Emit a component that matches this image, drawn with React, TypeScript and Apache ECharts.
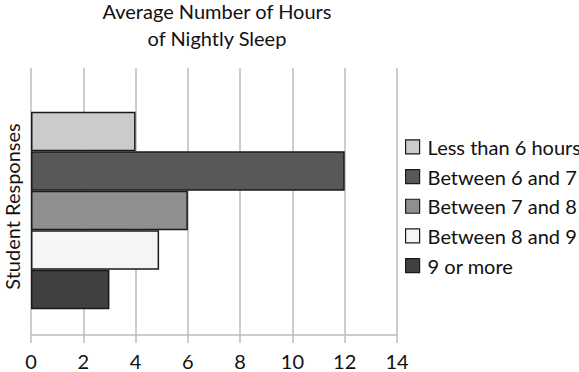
import React, { useEffect, useRef } from "react";
import * as echarts from "echarts";

const categories = ["Student Responses"];
const seriesNames = [
  "Less than 6 hours",
  "Between 6 and 7 hours",
  "Between 7 and 8 hours",
  "Between 8 and 9 hours",
  "9 or more",
];
const seriesValues = [4, 12, 6, 4.9, 3];
const seriesColors = ["#cbcbcb", "#58585a", "#8e8f91", "#f4f6f5", "#404042"];
const titleLines = ["Average Number of Hours", "of Nightly Sleep"];
const xMin = 0;
const xMax = 14;
const xStep = 2;

const FONT = "Lato, 'Open Sans', sans-serif";

export default function App() {
  const ref = useRef<HTMLDivElement>(null);
  useEffect(() => {
    if (!ref.current) return;
    const chart = echarts.init(ref.current, undefined, { renderer: "svg" });
    const barSeries = seriesNames.map((name, i) => ({
      name,
      type: "bar",
      data: [seriesValues[i]],
      barWidth: 39.5,
      barGap: "0%",
      itemStyle: { color: seriesColors[i], borderColor: "#1a1a1a", borderWidth: 1.5 },
    }));
    chart.setOption({
      animation: false,
      textStyle: { fontFamily: FONT },
      title: {
        text: titleLines.join("\n"),
        left: 212,
        top: -8,
        textAlign: "center",
        textStyle: { fontFamily: FONT, fontSize: 20, fontWeight: "normal", color: "#111", lineHeight: 27 },
      },
      legend: {
        orient: "vertical",
        left: 400,
        top: 131,
        itemWidth: 14,
        itemHeight: 14,
        itemGap: 8,
        data: seriesNames,
        icon: "rect",
        itemStyle: { borderColor: "#1a1a1a", borderWidth: 1.2 },
        textStyle: { fontFamily: FONT, fontSize: 20, color: "#111", padding: [0, 0, 0, 3], lineHeight: 21.7 },
      },
      grid: { left: 31, right: 182, top: 68, bottom: 37, containLabel: false, outerBoundsMode: "none" },
      xAxis: {
        type: "value",
        min: xMin,
        max: xMax,
        interval: xStep,
        axisLine: { show: true, lineStyle: { color: "#bdbdbd", width: 1.5 } },
        axisTick: { show: true, length: 8, lineStyle: { color: "#bdbdbd", width: 1.5 } },
        splitLine: { show: true, lineStyle: { color: "#bdbdbd", width: 1.5 } },
        axisLabel: { fontFamily: FONT, fontSize: 20, color: "#111", margin: 16 },
      },
      yAxis: {
        type: "category",
        data: categories,
        inverse: true,
        name: categories[0],
        nameLocation: "middle",
        nameRotate: 90,
        nameGap: 9,
        nameTextStyle: { fontFamily: FONT, fontSize: 20, color: "#111", padding: [0, 10, 0, 0] },
        axisLine: { show: false },
        axisTick: { show: false },
        axisLabel: { show: false },
        splitLine: { show: false },
      },
      series: [
        {
          name: "spacer",
          type: "bar",
          data: [null],
          barWidth: 18,
          barGap: "0%",
          silent: true,
          itemStyle: { color: "transparent" },
        },
        ...barSeries,
      ],
    });
    return () => chart.dispose();
  }, []);
  return (
    <div
      ref={ref}
      style={{ position: "fixed", left: 0, top: 0, width: 579, height: 372, overflow: "hidden", background: "#fff" }}
    />
  );
}
